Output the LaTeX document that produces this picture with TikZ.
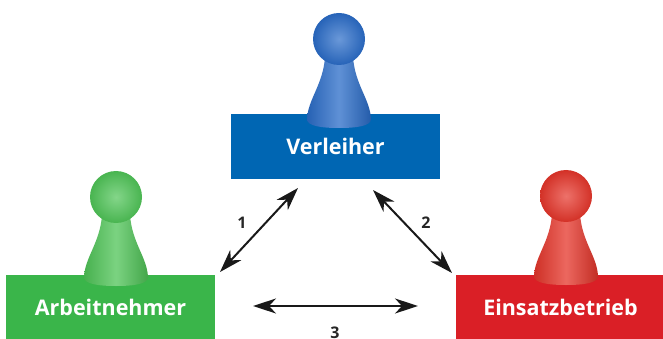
\documentclass[tikz,border=0pt]{standalone}
\usepackage{fontspec}
\setmainfont{Open Sans}
\usetikzlibrary{arrows.meta}
\definecolor{verlblau}{HTML}{0066B3}
\definecolor{arbgruen}{HTML}{3AB54A}
\definecolor{einsrot}{HTML}{DA1F26}
\definecolor{figblau}{HTML}{2A6CC8}
\definecolor{figgruen}{HTML}{4FC457}
\definecolor{figrot}{HTML}{E5352A}
\tikzset{
  kasten/.style={fill=#1, text=white, minimum width=209pt, minimum height=64pt,
    inner sep=0pt, font=\fontsize{21.5}{24}\selectfont\bfseries},
  pfeil/.style={{Stealth[length=23pt,width=15pt,inset=7pt]}-{Stealth[length=23pt,width=15pt,inset=7pt]},
    line width=2pt, draw=black!90},
  nummer/.style={font=\fontsize{16}{18}\selectfont\bfseries, text=black!85},
  pics/figur/.style={code={
    \shade[left color=#1!90!black, right color=#1!85!black, middle color=#1!75!white]
      (-14,18) .. controls (-16,46) and (-31,60) .. (-32,80)
      .. controls (-32,87) and (-18,89) .. (0,89)
      .. controls (18,89) and (32,87) .. (32,80)
      .. controls (31,60) and (16,46) .. (14,18) -- cycle;
    \shade[inner color=#1!70!white, outer color=#1!92!black] (0,0) circle (26);
  }}
}
\begin{document}
\begin{tikzpicture}[x=1pt,y=-1pt]
  \useasboundingbox (0,0) rectangle (663,339);
  % Kaesten
  \node[kasten=verlblau] (verl) at (335.5,146.5) {};
  \node[kasten=arbgruen] (arb) at (110.5,307) {};
  \node[kasten=einsrot] (eins) at (560.5,307) {};
  % Figuren
  \pic at (339,39) {figur=figblau};
  \pic at (116,197) {figur=figgruen};
  \pic at (566,196) {figur=figrot};
  % Beschriftung
  \node[kasten=verlblau, fill=none] (verltext) at (verl) {Verleiher};
  \node[kasten=arbgruen, fill=none] (arbtext) at (arb) {Arbeitnehmer};
  \node[kasten=einsrot, fill=none] (einstext) at (eins) {Einsatzbetrieb};
  % Pfeile
  \coordinate (p1a) at (220,272);
  \coordinate (p1b) at (298,188);
  \coordinate (p2a) at (373,190);
  \coordinate (p2b) at (452,273);
  \coordinate (p3a) at (253,306);
  \coordinate (p3b) at (418,306);
  \draw[pfeil] (p1a) -- (p1b);
  \draw[pfeil] (p2a) -- (p2b);
  \draw[pfeil] (p3a) -- (p3b);
  \node[nummer] (n1) at (242,223) {1};
  \node[nummer] (n2) at (426,223) {2};
  \node[nummer] (n3) at (335,333) {3};
\end{tikzpicture}
\end{document}
